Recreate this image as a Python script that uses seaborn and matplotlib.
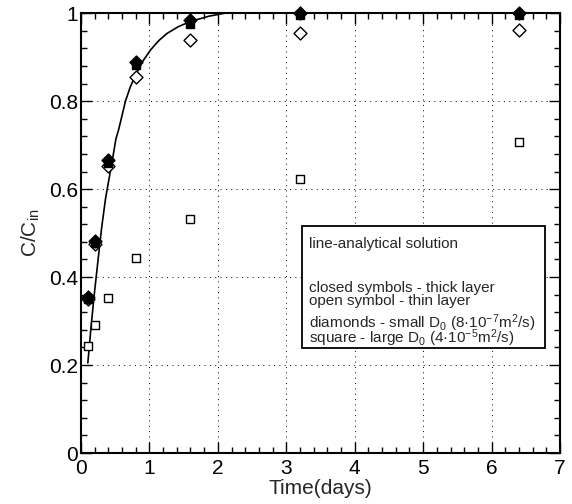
import matplotlib
matplotlib.use("Agg")
import matplotlib.pyplot as plt
from matplotlib.ticker import MultipleLocator
from matplotlib.patches import Rectangle
import pandas as pd
import seaborn as sns

# Sampling times (days)
time_days = [0.1, 0.2, 0.4, 0.8, 1.6, 3.2, 6.4]

# Normalised concentration C/Cin
thick_small_d0 = [0.355, 0.482, 0.667, 0.889, 0.984, 1.0, 1.0]     # closed diamonds
thick_large_d0 = [0.350, 0.478, 0.660, 0.882, 0.975, 0.995, 0.995]  # closed squares
thin_small_d0 = [0.350, 0.475, 0.652, 0.855, 0.939, 0.955, 0.962]   # open diamonds
thin_large_d0 = [0.244, 0.290, 0.353, 0.443, 0.532, 0.622, 0.706]   # open squares

# Analytical solution
analytic_t = [0.10, 0.14, 0.19, 0.25, 0.30, 0.36, 0.46, 0.51, 0.55, 0.65,
              0.72, 0.80, 0.90, 1.02, 1.14, 1.26, 1.42, 1.60, 1.87, 2.11, 7.0]
analytic_c = [0.205, 0.275, 0.355, 0.44, 0.51, 0.58, 0.667, 0.714, 0.735, 0.80,
              0.832, 0.86, 0.89, 0.917, 0.938, 0.954, 0.969, 0.981, 0.993, 1.0, 1.0]

x_ticks = [0, 1, 2, 3, 4, 5, 6, 7]
x_tick_labels = ["0", "1", "2", "3", "4", "5", "6", "7"]
y_ticks = [0, 0.2, 0.4, 0.6, 0.8, 1.0]
y_tick_labels = ["0", "0.2", "0.4", "0.6", "0.8", "1"]

note_title = "line-analytical solution"
note_layers = "closed symbols - thick layer\nopen symbol - thin layer"
note_symbols = (r"diamonds - small D$_0$ (8·10$^{-7}$m$^2$/s)" "\n"
                r"square - large D$_0$ (4·10$^{-5}$m$^2$/s)")

sns.set_style("white")
plt.rcParams["font.family"] = ["Liberation Sans", "DejaVu Sans"]
plt.rcParams["mathtext.fontset"] = "custom"
plt.rcParams["mathtext.rm"] = "Liberation Sans"
plt.rcParams["mathtext.it"] = "Liberation Sans:italic"
plt.rcParams["mathtext.default"] = "rm"

fig = plt.figure(figsize=(5.72, 5.04), dpi=100)
ax = fig.add_axes([0.1416, 0.101, 0.8374, 0.873])

curve = pd.DataFrame({"t": analytic_t, "c": analytic_c})
sns.lineplot(data=curve, x="t", y="c", ax=ax, color="black", lw=1.2,
             sort=False, estimator=None, zorder=3)

series = [
    (thin_large_d0, "s", "white", 6.2),
    (thin_small_d0, "D", "white", 6.6),
    (thick_large_d0, "s", "black", 6.2),
    (thick_small_d0, "D", "black", 6.6),
]
for vals, mk, face, size in series:
    df = pd.DataFrame({"t": time_days, "c": vals})
    sns.scatterplot(data=df, x="t", y="c", ax=ax, marker=mk, s=size ** 2,
                    facecolor=face, edgecolor="black", linewidth=1.0,
                    zorder=4, clip_on=False)

ax.set_xlim(0, 7)
ax.set_ylim(0, 1)
ax.set_xticks(x_ticks)
ax.set_xticklabels(x_tick_labels)
ax.set_yticks(y_ticks)
ax.set_yticklabels(y_tick_labels)
ax.xaxis.set_minor_locator(MultipleLocator(0.2))
ax.yaxis.set_minor_locator(MultipleLocator(0.04))

ax.tick_params(which="both", direction="in", top=True, right=True,
               bottom=True, left=True, colors="black", labelsize=15)
ax.tick_params(which="major", length=8, width=1.0)
ax.tick_params(which="minor", length=4.5, width=1.0)
ax.tick_params(axis="x", which="major", pad=4)
ax.tick_params(axis="y", which="major", pad=2)
for sp in ax.spines.values():
    sp.set_color("black")
    sp.set_linewidth(1.5)

ax.grid(True, which="major", color="black", linestyle=(0, (1, 4.5)), linewidth=0.7)

ax.set_xlabel("Time(days)", fontsize=15, labelpad=1)
ax.set_ylabel(r"C/C$_{\mathrm{in}}$", fontsize=15, labelpad=5)

# Annotation box
box = Rectangle((3.232, 0.238), 3.545, 0.278, transform=ax.transData,
                facecolor="white", edgecolor="black", linewidth=1.3, zorder=5)
ax.add_patch(box)
ax.text(3.33, 0.475, note_title, fontsize=11, va="center", ha="left", zorder=6)
ax.text(3.33, 0.360, note_layers, fontsize=11, va="center", ha="left",
        linespacing=0.92, zorder=6)
ax.text(3.33, 0.278, note_symbols, fontsize=11, va="center", ha="left",
        linespacing=0.62, zorder=6)

fig.savefig("out.png", dpi=100, facecolor="white")
